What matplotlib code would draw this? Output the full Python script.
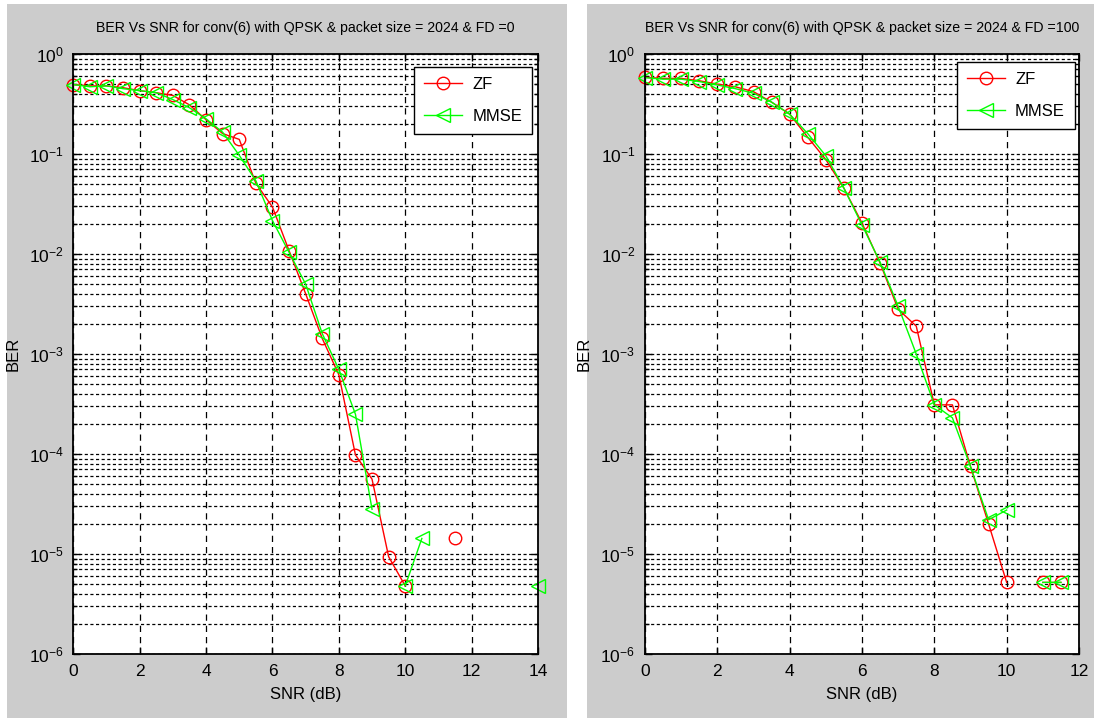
import matplotlib
matplotlib.use("Agg")
import matplotlib.pyplot as plt
import numpy as np
from matplotlib import font_manager
from matplotlib.patches import Rectangle
from matplotlib.ticker import NullLocator, NullFormatter, FixedLocator

# Schrift: schmale Arial-Variante, falls vorhanden
names = {f.name for f in font_manager.fontManager.ttflist}
FONT = "Liberation Sans Narrow" if "Liberation Sans Narrow" in names else "Liberation Sans"
plt.rcParams["font.family"] = [FONT, "DejaVu Sans"]
plt.rcParams["mathtext.fontset"] = "custom"
plt.rcParams["mathtext.rm"] = FONT
plt.rcParams["mathtext.default"] = "regular"

# Daten: FD = 0
snr_fd0 = [0, 0.5, 1, 1.5, 2, 2.5, 3, 3.5, 4, 4.5, 5, 5.5, 6, 6.5, 7, 7.5, 8, 8.5,
           9, 9.5, 10, 10.5, 11, 11.5, 12, 12.5, 13, 13.5, 14]
zf_fd0 = [0.495, 0.48, 0.48, 0.46, 0.43, 0.41, 0.385, 0.31, 0.22, 0.16, 0.14, 0.051,
          0.0295, 0.0108, 0.0040, 0.00143, 0.00062, 9.8e-5, 5.6e-5, 9.4e-6, 4.8e-6,
          np.nan, np.nan, 1.45e-5, np.nan, np.nan, np.nan, np.nan, np.nan]
mmse_fd0 = [0.495, 0.47, 0.48, 0.45, 0.43, 0.41, 0.35, 0.29, 0.225, 0.165, 0.097, 0.054,
            0.0216, 0.0104, 0.0050, 0.0016, 0.00070, 0.00025, 2.8e-5, np.nan, 4.8e-6,
            1.43e-5, np.nan, np.nan, np.nan, np.nan, np.nan, np.nan, 4.8e-6]

# Daten: FD = 100
snr_fd100 = [0, 0.5, 1, 1.5, 2, 2.5, 3, 3.5, 4, 4.5, 5, 5.5, 6, 6.5, 7, 7.5, 8, 8.5,
             9, 9.5, 10, 10.5, 11, 11.5, 12]
zf_fd100 = [0.585, 0.57, 0.57, 0.54, 0.50, 0.47, 0.42, 0.33, 0.25, 0.147, 0.088, 0.0455,
            0.0204, 0.0081, 0.0028, 0.0019, 0.00031, 0.00031, 7.5e-5, 2.0e-5, 5.2e-6,
            np.nan, 5.2e-6, 5.2e-6, np.nan]
mmse_fd100 = [0.58, 0.56, 0.56, 0.53, 0.49, 0.45, 0.405, 0.33, 0.25, 0.16, 0.096, 0.0455,
              0.0195, 0.0083, 0.0030, 0.0010, 0.00031, 0.00023, 7.5e-5, 2.2e-5, 2.75e-5,
              np.nan, 5.2e-6, 5.2e-6, np.nan]

decades = [-6, -5, -4, -3, -2, -1, 0]

W, H = 1094, 721
fig = plt.figure(figsize=(W / 100, H / 100), dpi=100, facecolor="white")

# graue MATLAB-Fensterflaechen
for x0, x1 in [(7, 567), (587, 1094)]:
    fig.add_artist(Rectangle((x0 / W, 3 / H), (x1 - x0) / W, (718 - 4) / H,
                             transform=fig.transFigure, facecolor="#cccccc",
                             edgecolor="none", zorder=-10))


def make_panel(rect, snr, zf, mmse, xmax, title, leg_off):
    ax = fig.add_axes(rect)
    ax.set_facecolor("white")
    ax.plot(snr, zf, color="red", marker="o", ms=9, mfc="none", mec="red",
            lw=1, mew=1, label="ZF", clip_on=False, zorder=3)
    ax.plot(snr, mmse, color="#00ff00", marker="<", ms=10, mfc="none", mec="#00ff00",
            lw=1, mew=1, label="MMSE", clip_on=False, zorder=3)
    ax.set_yscale("log")
    ax.set_xlim(0, xmax)
    ax.set_ylim(1e-6, 1)
    ax.xaxis.set_major_locator(FixedLocator(list(range(0, xmax + 1, 2))))
    ax.xaxis.set_minor_locator(NullLocator())
    ax.set_yticks([10.0 ** d for d in decades])
    ax.set_yticklabels([r"$10^{%d}$" % d for d in decades])
    ax.yaxis.set_minor_locator(FixedLocator(
        [m * 10.0 ** d for d in decades[:-1] for m in range(2, 10)]))
    ax.yaxis.set_minor_formatter(NullFormatter())
    ax.xaxis.grid(True, which="major", color="k", lw=0.9, linestyle=(0, (5, 4)))
    ax.yaxis.grid(True, which="both", color="k", lw=0.9, linestyle=(0, (2.5, 2)))
    ax.tick_params(which="both", direction="in", top=True, right=True, width=1,
                   labelsize=12.5, colors="k")
    ax.tick_params(which="major", length=5, pad=7)
    ax.tick_params(which="minor", length=3)
    for s in ax.spines.values():
        s.set_linewidth(1.3)
        s.set_zorder(4)
    ax.set_title(title, fontsize=10.2, pad=16)
    ax.set_xlabel("SNR (dB)", fontsize=12, labelpad=6)
    ax.set_ylabel("BER", fontsize=12, labelpad=6)
    leg = ax.legend(loc="upper right", bbox_to_anchor=leg_off, fontsize=12,
                    fancybox=False, framealpha=1, edgecolor="k", borderpad=0.6,
                    labelspacing=1.0, handlelength=2.3, handletextpad=0.6,
                    borderaxespad=0)
    leg.get_frame().set_linewidth(1)
    leg.set_zorder(5)
    return ax


make_panel([73.3 / W, (H - 654) / H, (538 - 73.3) / W, 600 / H],
           snr_fd0, zf_fd0, mmse_fd0, 14,
           "BER Vs SNR for conv(6) with QPSK & packet size = 2024 & FD =0",
           (1 - 6 / 465, 1 - 13 / 600))
make_panel([645 / W, (H - 654) / H, (1079 - 645) / W, 600 / H],
           snr_fd100, zf_fd100, mmse_fd100, 12,
           "BER Vs SNR for conv(6) with QPSK & packet size = 2024 & FD =100",
           (1 - 4 / 434, 1 - 8 / 600))

fig.savefig("out.png", dpi=100, facecolor="white")
